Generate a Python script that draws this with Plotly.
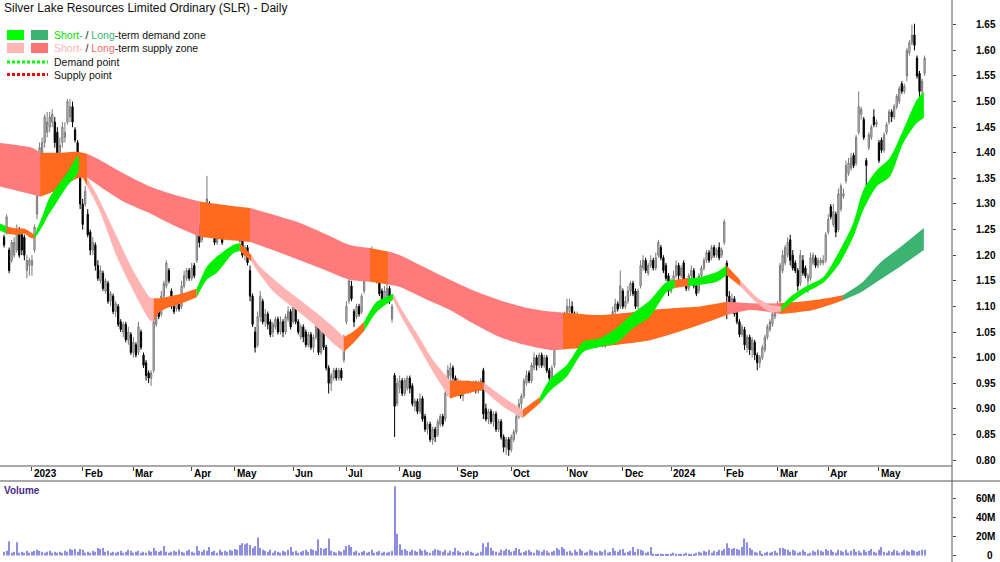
import plotly.graph_objects as go

# ---------------- data (trading-day index 0 = 3 Jan 2023) ----------------
day_idx = list(range(-11, 353))

opens = [
    1.235, 1.245, 1.21, 1.19, 1.20, 1.21, 1.25, 1.24, 1.235, 1.17,
    1.18, 1.18, 1.21, 1.28, 1.375, 1.39, 1.42, 1.44, 1.45, 1.46,
    1.46, 1.44, 1.40, 1.42, 1.43, 1.46, 1.47, 1.49, 1.445, 1.42,
    1.37, 1.30, 1.30, 1.28, 1.245, 1.21, 1.22, 1.18, 1.15, 1.165,
    1.13, 1.145, 1.11, 1.12, 1.09, 1.10, 1.07, 1.05, 1.065, 1.035,
    1.045, 1.01, 1.025, 1.01, 1.05, 1.005, 0.99, 0.97, 0.96, 0.975,
    1.065, 1.10, 1.085, 1.12, 1.14, 1.17, 1.13, 1.10, 1.095, 1.11,
    1.10, 1.14, 1.155, 1.17, 1.155, 1.18, 1.19, 1.255, 1.23, 1.27,
    1.26, 1.30, 1.27, 1.265, 1.225, 1.24, 1.245, 1.235, 1.255, 1.275,
    1.24, 1.255, 1.27, 1.25, 1.24, 1.20, 1.215, 1.17, 1.12, 1.05,
    1.025, 1.08, 1.11, 1.07, 1.085, 1.07, 1.05, 1.06, 1.075, 1.05,
    1.07, 1.05, 1.075, 1.09, 1.07, 1.10, 1.07, 1.04, 1.06, 1.05,
    1.025, 1.045, 1.02, 1.04, 1.06, 1.01, 1.06, 1.02, 0.98, 0.95,
    0.96, 0.975, 0.96, 0.975, 0.995, 1.07, 1.11, 1.14, 1.09, 1.08,
    1.10, 1.09, 1.13, 1.17, 1.20, 1.175, 1.20, 1.18, 1.15, 1.13,
    1.11, 1.12, 1.135, 1.075, 0.965, 0.91, 0.94, 0.955, 0.93, 0.94,
    0.96, 0.945, 0.905, 0.915, 0.895, 0.92, 0.885, 0.86, 0.87, 0.84,
    0.86, 0.85, 0.87, 0.885, 0.88, 0.93, 0.965, 0.98, 0.96, 0.935,
    0.95, 0.925, 0.94, 0.95, 0.935, 0.94, 0.95, 0.935, 0.94, 0.975,
    0.90, 0.88, 0.895, 0.875, 0.89, 0.86, 0.875, 0.845, 0.825, 0.84,
    0.82, 0.84, 0.855, 0.885, 0.91, 0.925, 0.95, 0.97, 0.955, 0.98,
    1.00, 0.985, 1.005, 0.985, 1.00, 0.975, 0.96, 0.985, 1.07, 1.04,
    1.06, 1.05, 1.08, 1.09, 1.10, 1.085, 1.06, 1.08, 1.05, 1.065,
    1.035, 1.055, 1.03, 1.045, 1.025, 1.045, 1.03, 1.045, 1.03, 1.05,
    1.06, 1.09, 1.105, 1.10, 1.13, 1.10, 1.11, 1.13, 1.145, 1.13,
    1.10, 1.14, 1.175, 1.19, 1.165, 1.18, 1.19, 1.175, 1.20, 1.215,
    1.195, 1.18, 1.16, 1.13, 1.145, 1.16, 1.18, 1.16, 1.185, 1.15,
    1.135, 1.16, 1.17, 1.14, 1.13, 1.16, 1.175, 1.19, 1.205, 1.195,
    1.215, 1.20, 1.215, 1.20, 1.225, 1.185, 1.12, 1.10, 1.115, 1.09,
    1.07, 1.045, 1.055, 1.02, 1.04, 1.015, 1.03, 1.005, 0.99, 1.00,
    1.015, 1.04, 1.055, 1.065, 1.08, 1.095, 1.11, 1.17, 1.185, 1.20,
    1.23, 1.20, 1.185, 1.17, 1.145, 1.19, 1.175, 1.15, 1.155, 1.185,
    1.195, 1.18, 1.185, 1.185, 1.19, 1.245, 1.295, 1.26, 1.28, 1.25,
    1.29, 1.315, 1.345, 1.36, 1.37, 1.395, 1.38, 1.44, 1.475, 1.465,
    1.385, 1.41, 1.43, 1.47, 1.455, 1.42, 1.425, 1.405, 1.44, 1.46,
    1.48, 1.47, 1.49, 1.50, 1.535, 1.52, 1.55, 1.595, 1.615, 1.63,
    1.585, 1.555, 1.52, 1.555,
]
highs = [
    1.24, 1.28, 1.215, 1.23, 1.235, 1.26, 1.255, 1.245, 1.24, 1.20,
    1.195, 1.20, 1.26, 1.37, 1.42, 1.43, 1.475, 1.48, 1.48, 1.485,
    1.47, 1.45, 1.43, 1.46, 1.46, 1.505, 1.505, 1.50, 1.45, 1.425,
    1.375, 1.31, 1.335, 1.29, 1.25, 1.235, 1.225, 1.19, 1.18, 1.17,
    1.155, 1.15, 1.13, 1.125, 1.11, 1.105, 1.075, 1.07, 1.07, 1.06,
    1.05, 1.04, 1.03, 1.07, 1.055, 1.01, 0.995, 0.975, 0.975, 1.075,
    1.11, 1.11, 1.13, 1.15, 1.19, 1.175, 1.135, 1.105, 1.12, 1.115,
    1.15, 1.17, 1.175, 1.175, 1.185, 1.185, 1.285, 1.26, 1.28, 1.29,
    1.355, 1.305, 1.275, 1.27, 1.25, 1.265, 1.25, 1.27, 1.275, 1.28,
    1.26, 1.285, 1.275, 1.255, 1.245, 1.22, 1.22, 1.18, 1.125, 1.06,
    1.09, 1.13, 1.115, 1.095, 1.09, 1.075, 1.07, 1.08, 1.08, 1.08,
    1.075, 1.085, 1.10, 1.095, 1.105, 1.105, 1.075, 1.065, 1.065, 1.055,
    1.05, 1.05, 1.045, 1.075, 1.065, 1.07, 1.065, 1.025, 0.985, 0.97,
    0.98, 0.98, 0.98, 0.98, 1.045, 1.11, 1.155, 1.15, 1.095, 1.105,
    1.105, 1.125, 1.20, 1.21, 1.21, 1.217, 1.205, 1.185, 1.155, 1.135,
    1.14, 1.145, 1.14, 1.105, 0.97, 0.96, 0.965, 0.96, 0.96, 0.965,
    0.965, 0.95, 0.92, 0.92, 0.93, 0.925, 0.89, 0.875, 0.875, 0.865,
    0.865, 0.88, 0.89, 0.89, 0.935, 0.985, 0.99, 0.985, 0.965, 0.96,
    0.955, 0.95, 0.955, 0.955, 0.95, 0.955, 0.955, 0.955, 0.96, 0.98,
    0.91, 0.90, 0.90, 0.895, 0.895, 0.88, 0.88, 0.85, 0.845, 0.845,
    0.85, 0.86, 0.89, 0.92, 0.93, 0.96, 0.975, 0.975, 0.99, 1.01,
    1.005, 1.01, 1.01, 1.005, 1.005, 0.98, 0.985, 1.09, 1.075, 1.065,
    1.065, 1.09, 1.115, 1.115, 1.11, 1.09, 1.09, 1.085, 1.07, 1.07,
    1.06, 1.06, 1.05, 1.05, 1.05, 1.05, 1.05, 1.05, 1.055, 1.07,
    1.10, 1.115, 1.11, 1.17, 1.135, 1.12, 1.14, 1.15, 1.15, 1.135,
    1.135, 1.19, 1.20, 1.195, 1.185, 1.20, 1.195, 1.205, 1.23, 1.22,
    1.20, 1.185, 1.165, 1.155, 1.17, 1.19, 1.185, 1.18, 1.19, 1.155,
    1.165, 1.18, 1.175, 1.145, 1.165, 1.18, 1.195, 1.21, 1.21, 1.22,
    1.22, 1.215, 1.225, 1.215, 1.27, 1.19, 1.13, 1.125, 1.12, 1.10,
    1.075, 1.065, 1.06, 1.045, 1.045, 1.04, 1.035, 1.01, 1.005, 1.025,
    1.045, 1.065, 1.075, 1.09, 1.10, 1.11, 1.185, 1.21, 1.22, 1.235,
    1.24, 1.21, 1.19, 1.175, 1.21, 1.20, 1.18, 1.165, 1.205, 1.205,
    1.20, 1.195, 1.195, 1.20, 1.245, 1.28, 1.30, 1.30, 1.285, 1.33,
    1.34, 1.33, 1.385, 1.39, 1.40, 1.40, 1.435, 1.52, 1.49, 1.47,
    1.39, 1.44, 1.455, 1.485, 1.465, 1.425, 1.43, 1.44, 1.46, 1.485,
    1.485, 1.495, 1.515, 1.53, 1.54, 1.535, 1.605, 1.62, 1.65, 1.652,
    1.59, 1.56, 1.545, 1.59,
]
lows = [
    1.215, 1.24, 1.165, 1.185, 1.195, 1.205, 1.195, 1.20, 1.19, 1.155,
    1.16, 1.16, 1.205, 1.27, 1.37, 1.38, 1.41, 1.43, 1.44, 1.45,
    1.41, 1.38, 1.39, 1.41, 1.42, 1.455, 1.46, 1.45, 1.42, 1.385,
    1.29, 1.25, 1.295, 1.235, 1.20, 1.20, 1.17, 1.15, 1.145, 1.13,
    1.125, 1.105, 1.10, 1.085, 1.08, 1.06, 1.05, 1.04, 1.03, 1.025,
    1.005, 1.00, 1.00, 1.005, 1.015, 0.98, 0.955, 0.95, 0.945, 0.97,
    1.06, 1.075, 1.08, 1.115, 1.135, 1.145, 1.095, 1.085, 1.09, 1.09,
    1.095, 1.135, 1.15, 1.15, 1.15, 1.155, 1.185, 1.215, 1.225, 1.26,
    1.255, 1.265, 1.24, 1.22, 1.22, 1.235, 1.22, 1.23, 1.25, 1.235,
    1.235, 1.25, 1.24, 1.225, 1.195, 1.19, 1.18, 1.11, 1.06, 1.01,
    1.02, 1.07, 1.065, 1.06, 1.055, 1.04, 1.04, 1.055, 1.045, 1.045,
    1.04, 1.045, 1.07, 1.055, 1.065, 1.065, 1.045, 1.035, 1.03, 1.02,
    1.02, 1.015, 1.01, 1.035, 1.005, 1.005, 1.015, 0.975, 0.93, 0.935,
    0.955, 0.955, 0.955, 0.955, 0.99, 1.065, 1.105, 1.11, 1.06, 1.075,
    1.08, 1.085, 1.125, 1.165, 1.165, 1.17, 1.17, 1.145, 1.12, 1.10,
    1.105, 1.115, 1.105, 1.068, 0.845, 0.905, 0.93, 0.925, 0.925, 0.935,
    0.93, 0.905, 0.895, 0.89, 0.89, 0.875, 0.855, 0.85, 0.835, 0.83,
    0.835, 0.845, 0.865, 0.865, 0.875, 0.925, 0.955, 0.955, 0.925, 0.93,
    0.92, 0.915, 0.935, 0.93, 0.93, 0.935, 0.93, 0.93, 0.935, 0.88,
    0.875, 0.87, 0.87, 0.865, 0.855, 0.855, 0.84, 0.815, 0.81, 0.808,
    0.815, 0.835, 0.85, 0.88, 0.90, 0.92, 0.945, 0.95, 0.95, 0.975,
    0.975, 0.98, 0.98, 0.98, 0.97, 0.955, 0.955, 0.98, 1.035, 1.035,
    1.04, 1.045, 1.075, 1.085, 1.08, 1.055, 1.055, 1.045, 1.04, 1.03,
    1.03, 1.02, 1.02, 1.02, 1.02, 1.025, 1.02, 1.02, 1.025, 1.045,
    1.055, 1.085, 1.09, 1.095, 1.095, 1.095, 1.105, 1.12, 1.12, 1.095,
    1.095, 1.135, 1.17, 1.165, 1.16, 1.175, 1.17, 1.17, 1.195, 1.19,
    1.165, 1.15, 1.12, 1.125, 1.14, 1.155, 1.15, 1.155, 1.145, 1.13,
    1.13, 1.155, 1.135, 1.12, 1.125, 1.155, 1.17, 1.185, 1.185, 1.19,
    1.195, 1.195, 1.19, 1.195, 1.22, 1.075, 1.09, 1.095, 1.08, 1.065,
    1.04, 1.04, 1.015, 1.01, 1.005, 1.00, 0.995, 0.975, 0.98, 0.995,
    1.01, 1.035, 1.05, 1.06, 1.075, 1.09, 1.105, 1.165, 1.18, 1.195,
    1.18, 1.17, 1.165, 1.13, 1.14, 1.16, 1.155, 1.126, 1.15, 1.18,
    1.175, 1.175, 1.18, 1.18, 1.185, 1.24, 1.27, 1.255, 1.235, 1.245,
    1.285, 1.31, 1.34, 1.355, 1.365, 1.37, 1.375, 1.435, 1.465, 1.425,
    1.335, 1.405, 1.425, 1.45, 1.45, 1.38, 1.40, 1.40, 1.435, 1.455,
    1.46, 1.465, 1.485, 1.495, 1.515, 1.515, 1.54, 1.59, 1.61, 1.60,
    1.545, 1.505, 1.51, 1.55,
]
closes = [
    1.22, 1.275, 1.17, 1.225, 1.225, 1.245, 1.20, 1.21, 1.20, 1.19,
    1.19, 1.19, 1.255, 1.36, 1.41, 1.42, 1.47, 1.46, 1.47, 1.475,
    1.42, 1.40, 1.415, 1.45, 1.44, 1.50, 1.49, 1.46, 1.425, 1.39,
    1.30, 1.26, 1.325, 1.24, 1.21, 1.225, 1.18, 1.155, 1.17, 1.135,
    1.15, 1.11, 1.125, 1.09, 1.105, 1.065, 1.055, 1.065, 1.035, 1.05,
    1.01, 1.03, 1.005, 1.06, 1.02, 0.985, 0.965, 0.96, 0.97, 1.07,
    1.095, 1.08, 1.12, 1.145, 1.185, 1.15, 1.10, 1.09, 1.115, 1.095,
    1.14, 1.16, 1.17, 1.155, 1.175, 1.16, 1.27, 1.225, 1.275, 1.28,
    1.31, 1.27, 1.245, 1.225, 1.24, 1.26, 1.225, 1.26, 1.265, 1.24,
    1.255, 1.28, 1.245, 1.23, 1.20, 1.215, 1.185, 1.12, 1.065, 1.02,
    1.08, 1.12, 1.07, 1.085, 1.065, 1.045, 1.065, 1.075, 1.05, 1.07,
    1.05, 1.08, 1.09, 1.06, 1.10, 1.07, 1.05, 1.06, 1.04, 1.025,
    1.045, 1.02, 1.04, 1.065, 1.01, 1.06, 1.02, 0.98, 0.95, 0.965,
    0.975, 0.96, 0.975, 0.96, 1.04, 1.10, 1.15, 1.115, 1.07, 1.10,
    1.085, 1.12, 1.19, 1.20, 1.17, 1.20, 1.18, 1.15, 1.125, 1.11,
    1.13, 1.135, 1.11, 1.10, 0.905, 0.95, 0.955, 0.93, 0.955, 0.96,
    0.94, 0.91, 0.915, 0.895, 0.92, 0.88, 0.86, 0.87, 0.84, 0.86,
    0.845, 0.875, 0.885, 0.87, 0.93, 0.975, 0.98, 0.96, 0.935, 0.95,
    0.925, 0.945, 0.95, 0.935, 0.945, 0.95, 0.935, 0.95, 0.955, 0.89,
    0.88, 0.895, 0.875, 0.89, 0.86, 0.875, 0.845, 0.825, 0.84, 0.82,
    0.845, 0.855, 0.885, 0.91, 0.925, 0.955, 0.965, 0.955, 0.985, 1.00,
    0.985, 1.005, 0.985, 1.00, 0.975, 0.96, 0.98, 1.06, 1.04, 1.06,
    1.045, 1.08, 1.10, 1.10, 1.085, 1.06, 1.08, 1.05, 1.065, 1.035,
    1.055, 1.03, 1.045, 1.025, 1.045, 1.03, 1.045, 1.03, 1.05, 1.065,
    1.09, 1.105, 1.095, 1.14, 1.10, 1.11, 1.13, 1.145, 1.125, 1.10,
    1.13, 1.18, 1.19, 1.17, 1.18, 1.19, 1.175, 1.195, 1.225, 1.195,
    1.17, 1.155, 1.13, 1.15, 1.16, 1.18, 1.16, 1.175, 1.15, 1.135,
    1.16, 1.17, 1.14, 1.125, 1.16, 1.175, 1.19, 1.205, 1.19, 1.215,
    1.20, 1.21, 1.195, 1.21, 1.265, 1.12, 1.10, 1.115, 1.085, 1.07,
    1.045, 1.06, 1.025, 1.04, 1.015, 1.035, 1.005, 0.99, 1.00, 1.02,
    1.04, 1.06, 1.07, 1.085, 1.095, 1.105, 1.18, 1.20, 1.215, 1.225,
    1.19, 1.175, 1.17, 1.14, 1.20, 1.165, 1.16, 1.16, 1.195, 1.20,
    1.18, 1.19, 1.19, 1.19, 1.24, 1.27, 1.275, 1.285, 1.245, 1.32,
    1.335, 1.32, 1.375, 1.38, 1.39, 1.375, 1.43, 1.49, 1.485, 1.43,
    1.375, 1.435, 1.45, 1.455, 1.46, 1.385, 1.405, 1.435, 1.455, 1.48,
    1.47, 1.49, 1.51, 1.525, 1.52, 1.53, 1.60, 1.615, 1.63, 1.61,
    1.55, 1.52, 1.54, 1.585,
]
volume_m = [
    4, 5, 15, 3, 4, 14, 3, 4, 3, 5, 3,
    4, 5, 6, 5, 4, 3, 4, 5, 3, 4,
    3, 4, 3, 5, 4, 7, 6, 7, 4, 7,
    6, 3, 4, 3, 5, 4, 8, 7, 8, 4,
    5, 3, 4, 3, 4, 5, 3, 4, 6, 5,
    3, 4, 5, 3, 4, 3, 5, 4, 8, 5,
    4, 5, 10, 4, 3, 4, 5, 4, 6, 4,
    3, 5, 6, 4, 3, 10, 5, 4, 6, 5,
    9, 4, 5, 3, 6, 4, 5, 4, 6, 5,
    7, 6, 11, 13, 12, 13, 11, 8, 10, 19,
    8, 6, 5, 4, 6, 3, 5, 4, 3, 5,
    4, 6, 9, 4, 5, 3, 4, 5, 6, 4,
    7, 6, 5, 17, 8, 7, 8, 18, 5, 4,
    3, 5, 4, 6, 10, 11, 9, 4, 5, 3,
    4, 5, 3, 4, 6, 3, 4, 5, 3, 4,
    3, 4, 5, 73, 23, 12, 6, 7, 5, 4,
    6, 5, 4, 7, 5, 6, 4, 3, 5, 7,
    6, 5, 4, 6, 3, 5, 4, 8, 5, 4,
    3, 4, 5, 4, 3, 2, 3, 4, 13, 9,
    14, 8, 5, 4, 3, 6, 5, 7, 6, 4,
    5, 8, 7, 3, 4, 5, 6, 4, 3, 6,
    5, 4, 6, 5, 3, 4, 5, 8, 6, 9,
    7, 4, 5, 3, 6, 4, 7, 5, 3, 4,
    6, 5, 4, 3, 5, 4, 6, 3, 4, 8,
    5, 4, 6, 7, 3, 4, 5, 9, 4, 7,
    6, 5, 3, 4, 9, 2, 1, 2, 2, 1,
    2, 1, 2, 3, 2, 1, 2, 2, 3, 2,
    1, 2, 3, 4, 3, 5, 4, 6, 3, 5,
    4, 6, 5, 7, 13, 8, 7, 8, 7, 6,
    9, 18, 14, 8, 6, 4, 3, 5, 2, 3,
    4, 3, 4, 5, 3, 8, 8, 7, 6, 4,
    6, 5, 3, 4, 6, 4, 2, 3, 5, 4,
    6, 5, 4, 7, 5, 6, 4, 3, 6, 5,
    4, 6, 3, 5, 7, 4, 5, 3, 6, 4,
    5, 7, 4, 3, 6, 9, 4, 3, 5, 4,
    6, 5, 3, 4, 6, 5, 4, 6, 5, 4,
    5, 6, 6,
]

# short-term zone (upper / lower edge) sampled at trading-day positions
st_x = [-12.6, -10.0, -6.0, -3.0, -0.5, 1.0, 4.0, 6.7, 10.0, 13.8, 17.7, 18.5,
        21.7, 26.6, 33.5, 39.8, 46.5, 48.0, 50.5, 58.4, 65.0, 68.9, 72.8, 79.4,
        82.0, 86.6, 89.5, 95.0, 100.5, 105.8, 112.3, 118.8, 123.0, 127.0, 131.0,
        135.9, 141.2, 142.5, 145.1, 151.7, 158.2, 164.8, 171.4, 178.0, 185.8,
        193.5, 200.3, 204.3, 210.8, 217.4, 224.0, 230.6, 237.1, 243.7, 250.3,
        253.5, 258.8, 263.4, 270.0, 273.9, 279.2, 285.8, 291.0, 295.5, 298.9,
        304.8, 312.0, 318.6, 323.9, 327.8, 333.1, 338.3, 343.6, 348.9, 351.7]
st_hi = [1.262, 1.256, 1.252, 1.252, 1.245, 1.240, 1.275, 1.310, 1.335, 1.360, 1.392, 1.393,
         1.352, 1.308, 1.236, 1.171, 1.118, 1.116, 1.116, 1.124, 1.135, 1.177, 1.197, 1.220,
         1.224, 1.200, 1.180, 1.155, 1.132, 1.112, 1.087, 1.060, 1.040, 1.052, 1.070,
         1.109, 1.122, 1.125, 1.100, 1.048, 0.995, 0.956, 0.955, 0.952, 0.923,
         0.898, 0.923, 0.958, 0.985, 1.031, 1.038, 1.058, 1.087, 1.112, 1.148,
         1.152, 1.155, 1.157, 1.167, 1.180, 1.152, 1.118, 1.103, 1.100, 1.118,
         1.138, 1.157, 1.210, 1.263, 1.327, 1.366, 1.390, 1.445, 1.503, 1.519]
st_lo = [1.248, 1.242, 1.240, 1.242, 1.234, 1.232, 1.255, 1.280, 1.305, 1.334, 1.357, 1.368,
         1.335, 1.288, 1.197, 1.132, 1.073, 1.070, 1.090, 1.105, 1.118, 1.152, 1.165, 1.204,
         1.208, 1.187, 1.165, 1.130, 1.107, 1.087, 1.060, 1.028, 1.011, 1.030, 1.052,
         1.089, 1.109, 1.113, 1.085, 1.028, 0.972, 0.920, 0.930, 0.937, 0.904,
         0.882, 0.911, 0.935, 0.962, 1.011, 1.021, 1.029, 1.058, 1.080, 1.128,
         1.136, 1.140, 1.142, 1.148, 1.161, 1.140, 1.107, 1.089, 1.090, 1.105,
         1.126, 1.146, 1.185, 1.236, 1.288, 1.334, 1.353, 1.419, 1.458, 1.468]
st_zones = [(-12.6, -10.0, 'g'), (-10.0, 1.0, 'o'), (1.0, 18.5, 'g'), (18.5, 21.7, 'o'),
            (21.7, 48.0, 'p'), (48.0, 65.0, 'o'), (65.0, 82.0, 'g'), (82.0, 86.6, 'o'),
            (86.6, 123.0, 'p'), (123.0, 131.0, 'o'), (131.0, 142.5, 'g'), (142.5, 164.8, 'p'),
            (164.8, 178.0, 'o'), (178.0, 193.5, 'p'), (193.5, 200.3, 'o'), (200.3, 253.5, 'g'),
            (253.5, 258.8, 'o'), (258.8, 273.9, 'g'), (273.9, 279.2, 'o'), (279.2, 295.5, 'p'),
            (295.5, 351.7, 'g')]

# long-term zone
lt_x = [-12.6, 0.5, 3.2, 11.0, 17.7, 21.7, 26.8, 36.0, 46.5, 56.0, 66.2, 76.0, 86.0,
        96.0, 105.7, 115.5, 125.4, 133.3, 140.4, 145.1, 155.0, 164.8, 174.6, 184.5,
        194.4, 204.3, 209.4, 224.0, 233.8, 243.7, 253.5, 263.4, 274.0, 283.1, 295.0,
        308.0, 319.8, 327.0, 334.4, 343.0, 351.7]
lt_hi = [1.419, 1.409, 1.400, 1.400, 1.402, 1.398, 1.386, 1.360, 1.334, 1.318, 1.305, 1.298, 1.292,
         1.278, 1.263, 1.242, 1.220, 1.214, 1.207, 1.200, 1.176, 1.152, 1.130, 1.112,
         1.098, 1.090, 1.088, 1.083, 1.087, 1.093, 1.097, 1.100, 1.109, 1.106, 1.106,
         1.112, 1.122, 1.145, 1.185, 1.218, 1.253]
lt_lo = [1.334, 1.318, 1.314, 1.330, 1.350, 1.352, 1.334, 1.305, 1.282, 1.258, 1.236, 1.230, 1.226,
         1.208, 1.190, 1.171, 1.152, 1.148, 1.143, 1.138, 1.115, 1.093, 1.065, 1.040,
         1.025, 1.015, 1.016, 1.021, 1.027, 1.034, 1.048, 1.064, 1.083, 1.093, 1.085,
         1.093, 1.112, 1.128, 1.152, 1.180, 1.210]
lt_zones = [(-12.6, 3.2, 's'), (3.2, 21.7, 'o'), (21.7, 66.2, 's'), (66.2, 86.0, 'o'),
            (86.0, 133.3, 's'), (133.3, 140.4, 'o'), (140.4, 209.4, 's'), (209.4, 274.0, 'o'),
            (274.0, 295.0, 's'), (295.0, 319.8, 'o'), (319.8, 351.7, 'd')]

month_idx = [0, 20, 40, 63, 80, 103, 124, 145, 168, 189, 211, 233, 252, 273, 294, 314, 334]
month_lbl = ['2023', 'Feb', 'Mar', 'Apr', 'May', 'Jun', 'Jul', 'Aug', 'Sep', 'Oct',
             'Nov', 'Dec', '2024', 'Feb', 'Mar', 'Apr', 'May']
price_ticks = [0.80, 0.85, 0.90, 0.95, 1.00, 1.05, 1.10, 1.15, 1.20, 1.25, 1.30,
               1.35, 1.40, 1.45, 1.50, 1.55, 1.60, 1.65]
vol_ticks = [0, 20e6, 40e6, 60e6]
vol_tick_lbl = ['\u2007\u20070', '20M', '40M', '60M']

# ---------------- styling ----------------
ZONE_COL = {'g': '#00F000', 'd': '#3CB371', 'p': '#FFB3B3', 's': '#FF7A7A', 'o': '#FF6A1F'}
FONT = 'Liberation Sans, Arial, sans-serif'
W, H = 1000, 562
PLOT_R = 952 / W
MAIN_BOT = 1 - 466 / H
VOL_TOP = 1 - 481 / H


def py(px):
    return 1 - px / H


def zone_traces(xs, hi, lo, zones):
    out = []
    for a, b, c in zones:
        sel = [k for k, x in enumerate(xs) if a - 1e-9 <= x <= b + 1e-9]
        sx = [xs[k] for k in sel]
        out.append(go.Scatter(x=sx, y=[lo[k] for k in sel], mode='lines',
                              line=dict(width=0, shape='spline', smoothing=0.7),
                              hoverinfo='skip', showlegend=False, xaxis='x', yaxis='y'))
        out.append(go.Scatter(x=sx, y=[hi[k] for k in sel], mode='lines',
                              line=dict(width=0, shape='spline', smoothing=0.7),
                              fill='tonexty', fillcolor=ZONE_COL[c],
                              hoverinfo='skip', showlegend=False, xaxis='x', yaxis='y'))
    return out


fig = go.Figure()
for t in zone_traces(lt_x, lt_hi, lt_lo, lt_zones):
    fig.add_trace(t)
for t in zone_traces(st_x, st_hi, st_lo, st_zones):
    fig.add_trace(t)

fig.add_trace(go.Candlestick(
    x=day_idx, open=opens, high=highs, low=lows, close=closes,
    increasing=dict(line=dict(color='#7A7A7A', width=1), fillcolor='#D6D6D6'),
    decreasing=dict(line=dict(color='#000000', width=1), fillcolor='#000000'),
    whiskerwidth=0, hoverinfo='skip', showlegend=False, xaxis='x', yaxis='y'))

fig.add_trace(go.Bar(
    x=day_idx, y=[v * 1e6 for v in volume_m], width=0.45,
    marker=dict(color='#8E8EE0', line=dict(width=0)),
    hoverinfo='skip', showlegend=False, xaxis='x2', yaxis='y2'))

xr = [-12.6, 362.8]
tick_font = dict(family=FONT, size=10, color='#000', weight='bold')
fig.update_layout(
    width=W, height=H, margin=dict(l=0, r=0, t=0, b=0),
    paper_bgcolor='white', plot_bgcolor='white', showlegend=False,
    font=dict(family=FONT, color='#000'),
    xaxis=dict(domain=[0, PLOT_R], range=xr, anchor='y', tickvals=month_idx,
               ticks='outside', ticklen=4, tickcolor='#444', showticklabels=False,
               showgrid=False, zeroline=False, showline=False,
               rangeslider=dict(visible=False), fixedrange=True),
    yaxis=dict(domain=[MAIN_BOT, 1], range=[0.7883, 1.6984], side='right', anchor='x',
               tickvals=price_ticks, tickformat='.2f', ticks='outside', ticklen=3,
               tickcolor='#444', ticklabelstandoff=18, automargin=False,
               ticklabeloverflow='allow', tickfont=tick_font,
               showgrid=False, zeroline=False, showline=False),
    xaxis2=dict(domain=[0, PLOT_R], range=xr, anchor='y2', matches='x',
                showticklabels=False, ticks='', showgrid=False, zeroline=False),
    yaxis2=dict(domain=[0, VOL_TOP], range=[-6.8e6, 78.4e6], side='right', anchor='x2',
                tickvals=vol_ticks, ticktext=vol_tick_lbl, ticks='outside', ticklen=3,
                tickcolor='#444', ticklabelstandoff=18, automargin=False,
                ticklabeloverflow='allow', tickfont=tick_font,
                showgrid=False, zeroline=False, showline=False),
)

line_col = '#555555'
shapes = [
    dict(type='line', xref='paper', yref='paper', x0=0, x1=PLOT_R, y0=MAIN_BOT, y1=MAIN_BOT,
         line=dict(color=line_col, width=1)),
    dict(type='line', xref='paper', yref='paper', x0=0, x1=1, y0=VOL_TOP, y1=VOL_TOP,
         line=dict(color=line_col, width=1)),
    dict(type='line', xref='paper', yref='paper', x0=PLOT_R, x1=PLOT_R, y0=0, y1=1,
         line=dict(color=line_col, width=1)),
    # legend swatches
    dict(type='rect', xref='paper', yref='paper', x0=0.007, x1=0.024, y0=py(40), y1=py(30),
         fillcolor='#00FF00', line=dict(width=0)),
    dict(type='rect', xref='paper', yref='paper', x0=0.031, x1=0.048, y0=py(40), y1=py(30),
         fillcolor='#3CB371', line=dict(width=0)),
    dict(type='rect', xref='paper', yref='paper', x0=0.007, x1=0.024, y0=py(53), y1=py(43),
         fillcolor='#FFB6B6', line=dict(width=0)),
    dict(type='rect', xref='paper', yref='paper', x0=0.031, x1=0.048, y0=py(53), y1=py(43),
         fillcolor='#FF7373', line=dict(width=0)),
    dict(type='line', xref='paper', yref='paper', x0=0.007, x1=0.048, y0=py(62), y1=py(62),
         line=dict(color='#00FF00', width=3, dash='3px,2px')),
    dict(type='line', xref='paper', yref='paper', x0=0.007, x1=0.048, y0=py(74.5), y1=py(74.5),
         line=dict(color='#FF0000', width=3, dash='3px,2px')),
]
fig.update_layout(shapes=shapes)

ann = [
    dict(text='Silver Lake Resources Limited Ordinary (SLR) - Daily', x=0.003, y=py(8),
         font=dict(size=12, color='#111')),
    dict(text="<span style='color:#00E000'>Short-</span> / <span style='color:#3CB371'>Long</span>-term demand zone",
         x=0.053, y=py(35), font=dict(size=10.5, color='#111')),
    dict(text="<span style='color:#FFB3B3'>Short-</span> / <span style='color:#FF6B6B'>Long</span>-term supply zone",
         x=0.053, y=py(48.5), font=dict(size=10.5, color='#111')),
    dict(text='Demand point', x=0.053, y=py(62), font=dict(size=10.5, color='#111')),
    dict(text='Supply point', x=0.053, y=py(74.5), font=dict(size=10.5, color='#111')),
    dict(text='<b>Volume</b>', x=0.003, y=py(490), font=dict(size=10, color='#4B2A8A')),
]
annotations = []
for a in ann:
    a.update(xref='paper', yref='paper', xanchor='left', yanchor='middle',
             showarrow=False, borderpad=0)
    a['font']['family'] = FONT
    annotations.append(a)
for idx, lbl in zip(month_idx, month_lbl):
    annotations.append(dict(text='<b>' + lbl + '</b>', x=idx + 0.4, y=py(474), xref='x', yref='paper',
                            xanchor='left', yanchor='middle', showarrow=False, borderpad=0,
                            font=dict(family=FONT, size=10, color='#000')))
fig.update_layout(annotations=annotations)

fig.write_html('out.html')
